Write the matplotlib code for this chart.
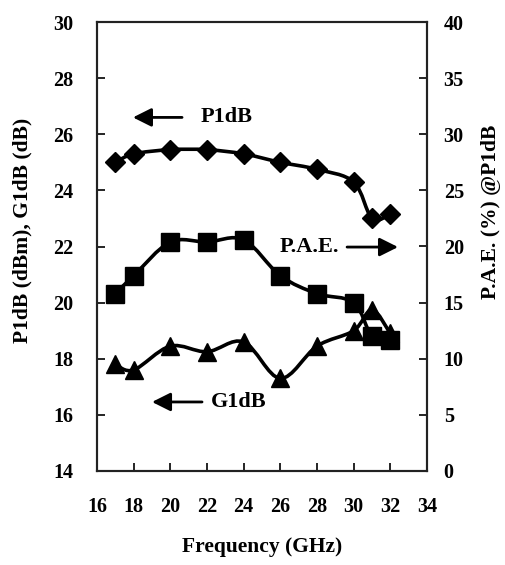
import numpy as np
import matplotlib.pyplot as plt
from matplotlib.path import Path
from matplotlib.patches import PathPatch

freq = [17, 18, 20, 22, 24, 26, 28, 30, 31, 32]
p1db = [25.0, 25.3, 25.45, 25.45, 25.3, 25.0, 24.75, 24.3, 23.0, 23.15]
g1db = [17.8, 17.6, 18.45, 18.25, 18.6, 17.3, 18.45, 19.0, 19.75, 18.9]
pae = [15.8, 17.4, 20.4, 20.4, 20.6, 17.4, 15.8, 15.0, 12.0, 11.7]

x_ticks = list(range(16, 35, 2))
left_ticks = list(range(14, 31, 2))
right_ticks = list(range(0, 41, 5))

plt.rcParams['font.family'] = ['Liberation Serif', 'DejaVu Serif']
plt.rcParams['font.weight'] = 'bold'


def smooth_line(ax, xs, ys, lw=2.6):
    # bezier curve through the points, like a spreadsheet "smoothed line"
    pts = np.column_stack([xs, ys]).astype(float)
    ext = np.vstack([pts[0], pts, pts[-1]])
    verts = [tuple(pts[0])]
    codes = [Path.MOVETO]
    for i in range(len(pts) - 1):
        p0, p1, p2, p3 = ext[i], ext[i + 1], ext[i + 2], ext[i + 3]
        c1 = p1 + (p2 - p0) / 6.0
        c2 = p2 - (p3 - p1) / 6.0
        verts += [tuple(c1), tuple(c2), tuple(p2)]
        codes += [Path.CURVE4] * 3
    patch = PathPatch(Path(verts, codes), facecolor='none', edgecolor='black',
                      lw=lw, transform=ax.transData, zorder=2)
    ax.add_patch(patch)


fig = plt.figure(figsize=(5.06, 5.65), dpi=100)
ax = fig.add_axes([97 / 506, 94 / 565, 330 / 506, 449 / 565])
ax2 = ax.twinx()

smooth_line(ax, freq, g1db)
ax.plot(freq, g1db, ls='none', marker='^', ms=13, color='black', zorder=3)
smooth_line(ax, freq, p1db)
ax.plot(freq, p1db, ls='none', marker='D', ms=10, color='black', zorder=3)
smooth_line(ax2, freq, pae)
ax2.plot(freq, pae, ls='none', marker='s', ms=12.5, color='black', zorder=3)

ax.set_xlim(16, 34)
ax.set_ylim(14, 30)
ax2.set_ylim(0, 40)
ax.set_xticks(x_ticks)
ax.set_yticks(left_ticks)
ax2.set_yticks(right_ticks)

for a in (ax, ax2):
    for s in a.spines.values():
        s.set_linewidth(1.5)
        s.set_color('#222222')
ax.tick_params(axis='x', direction='in', length=6, width=1.2, pad=19, labelsize=14.5)
ax.tick_params(axis='y', direction='in', length=6, width=1.2, pad=17, labelsize=14.5)
ax2.tick_params(axis='y', direction='in', length=6, width=1.2, pad=12, labelsize=14.5)

ax.set_xlabel('Frequency (GHz)', fontsize=15.5, fontweight='bold')
ax.xaxis.set_label_coords(0.5, -0.148)
ax.set_ylabel('P1dB (dBm), G1dB (dB)', fontsize=15.5, fontweight='bold')
ax.yaxis.set_label_coords(-0.195, 0.535)
ax2.set_ylabel('P.A.E. (%) @P1dB', fontsize=15.5, fontweight='bold')
ax2.yaxis.set_label_coords(1.165, 0.577)

arrow = dict(arrowstyle='-|>,head_length=0.8,head_width=0.4', lw=2,
             color='black', mutation_scale=14, shrinkA=0, shrinkB=0)
ax.annotate('', xy=(17.96, 26.6), xytext=(20.64, 26.6), arrowprops=arrow)
ax.text(23.05, 26.6, 'P1dB', fontsize=16, fontweight='bold', ha='center', va='center')
ax.annotate('', xy=(19.0, 16.46), xytext=(21.73, 16.46), arrowprops=arrow)
ax.text(23.75, 16.46, 'G1dB', fontsize=16, fontweight='bold', ha='center', va='center')
ax.annotate('', xy=(32.42, 21.98), xytext=(29.64, 21.98), arrowprops=arrow)
ax.text(27.56, 21.98, 'P.A.E.', fontsize=16, fontweight='bold', ha='center', va='center')

fig.savefig('out.png', dpi=100)
